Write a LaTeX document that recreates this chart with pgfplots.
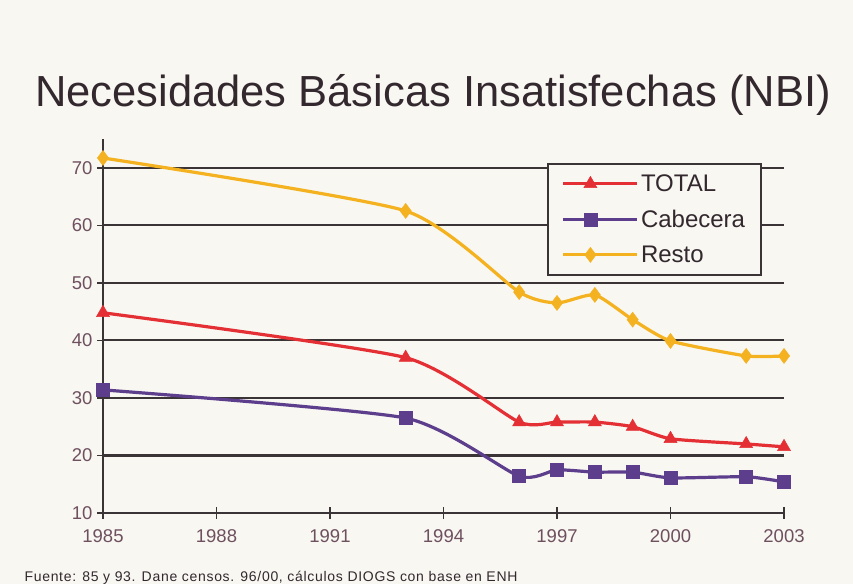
\documentclass[border=0pt]{standalone}
\usepackage{pgfplots}
\pgfplotsset{compat=1.18}
\usepackage{fontspec}
\setmainfont{Liberation Sans}

\definecolor{bgcol}{RGB}{248,247,242}
\definecolor{gridcol}{RGB}{58,52,54}
\definecolor{txtcol}{RGB}{50,40,46}
\definecolor{tickcol}{RGB}{110,80,95}
\definecolor{totalred}{RGB}{228,48,52}
\definecolor{cabpurple}{RGB}{92,62,140}
\definecolor{restogold}{RGB}{244,178,32}

\begin{document}
\begin{tikzpicture}
  % page frame = reference canvas, 1pt per pixel
  \fill[bgcol] (0,0) rectangle (853pt,584pt);

  \node[anchor=base, text=txtcol, font=\fontsize{43.5}{43.5}\selectfont]
    at (433pt,477pt) {Necesidades Básicas Insatisfechas (NBI)};

  \node[anchor=west, text=txtcol,
        font=\fontsize{14}{14}\selectfont\addfontfeatures{LetterSpace=5}]
    at (21pt,6pt) {Fuente: 85 y 93. Dane censos. 96/00, cálculos DIOGS con base en ENH};

  \begin{axis}[
      at={(103pt,71pt)}, anchor=south west,
      scale only axis,
      width=681pt, height=374pt,
      xmin=1985, xmax=2003,
      ymin=10, ymax=75,
      axis x line=bottom, axis y line=left,
      axis line style={-, line width=2pt, color=gridcol},
      xtick={1985,1988,...,2003},
      minor x tick num=2,
      ytick={10,20,...,70},
      ymajorgrids,
      major grid style={line width=2.2pt, color=gridcol},
      tick style={line width=1.6pt, color=gridcol},
      tick align=center,
      major tick length=12pt, minor tick length=7pt,
      xticklabel style={/pgf/number format/1000 sep={}, yshift=-7pt},
      yticklabel style={xshift=-1pt},
      /pgf/number format/assume math mode=true,
      tick label style={font=\fontsize{18.5}{18.5}\selectfont, text=tickcol},
      legend style={
          at={(0.652,0.936)}, anchor=north west,
          draw=gridcol, line width=1.6pt, fill=bgcol,
          font=\fontsize{24}{24}\selectfont, text=txtcol,
          inner xsep=14pt, inner ysep=9pt,
          row sep=13pt,
      },
      legend cell align=left,
      legend image code/.code={
          \draw[mark repeat=2, mark phase=2]
            plot coordinates {(0pt,0pt) (27pt,0pt) (54pt,0pt)};
          \path (0pt,0pt) -- (74pt,0pt);
      },
      every axis plot/.append style={line width=3.2pt, smooth, tension=0.35},
    ]
    \addplot[color=totalred, mark=triangle*, mark size=7.5pt,
             mark options={line width=0.5pt}]
      coordinates {
        (1985,44.8) (1993,37.0) (1996,25.8) (1997,25.8) (1998,25.8)
        (1999,25.0) (2000,22.9) (2002,22.0) (2003,21.5)
      };
    \addlegendentry{TOTAL}
    \addplot[color=cabpurple, mark=square*, mark size=6.5pt,
             mark options={line width=0.5pt}]
      coordinates {
        (1985,31.4) (1993,26.5) (1996,16.4) (1997,17.5) (1998,17.1)
        (1999,17.1) (2000,16.1) (2002,16.3) (2003,15.4)
      };
    \addlegendentry{Cabecera}
    \addplot[color=restogold, mark=diamond*, mark size=7.5pt,
             mark options={line width=0.5pt}]
      coordinates {
        (1985,71.7) (1993,62.5) (1996,48.4) (1997,46.5) (1998,47.9)
        (1999,43.6) (2000,39.9) (2002,37.3) (2003,37.3)
      };
    \addlegendentry{Resto}
  \end{axis}
\end{tikzpicture}
\end{document}
